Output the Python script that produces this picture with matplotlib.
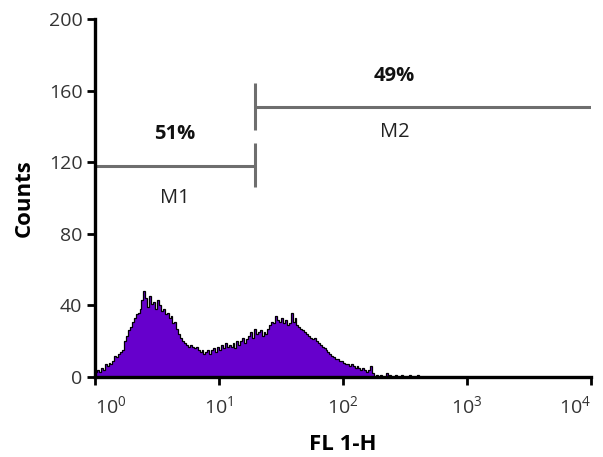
import numpy as np
import matplotlib
matplotlib.use('Agg')
import matplotlib.pyplot as plt
from matplotlib.ticker import FixedLocator, FuncFormatter, NullLocator

plt.rcParams['font.family'] = ['Open Sans', 'DejaVu Sans']
plt.rcParams['mathtext.default'] = 'regular'

# histogram: 64 channels per decade starting at 10^0
channels_per_decade = 64
counts = [
    3, 4, 3, 5, 4,
    7, 6, 8, 7, 9,
    12, 11, 13, 14, 15,
    20, 23, 26, 28, 31,
    33, 35, 36, 38, 43,
    48, 44, 39, 45, 41,
    42, 38, 43, 40, 37,
    38, 35, 36, 33, 34,
    30, 31, 27, 24, 22,
    20, 19, 18, 17, 18,
    17, 16, 17, 15, 14,
    15, 13, 14, 15, 13,
    15, 16, 14, 17, 15,
    18, 16, 19, 17, 18,
    17, 19, 16, 20, 18,
    20, 22, 19, 21, 23,
    25, 22, 27, 24, 25,
    26, 23, 25, 24, 27,
    29, 31, 30, 34, 32,
    31, 33, 30, 32, 29,
    30, 36, 31, 33, 29,
    28, 27, 26, 25, 24,
    23, 22, 21, 22, 20,
    19, 18, 17, 16, 15,
    14, 13, 12, 11, 10,
    10, 9, 9, 8, 7,
    7, 6, 7, 6, 5,
    6, 5, 4, 5, 4,
    3, 4, 6, 2, 0,
    1, 0, 1, 0, 0, 2, 0, 1, 0, 0,
    1, 0, 0, 1, 0, 0, 0, 1, 0, 0,
    0, 1, 0, 0, 0, 0, 0, 0,
]
edges = 10 ** (np.arange(len(counts) + 1) / channels_per_decade)

# marker gates
m1_start, m1_end, m1_y = 1, 19.5, 118
m2_start, m2_end, m2_y = 19.5, 10000, 151
m1_label, m1_pct = 'M1', '51%'
m2_label, m2_pct = 'M2', '49%'

fig = plt.figure(figsize=(6.03, 4.57), dpi=100)
ax = fig.add_axes([0.1575, 0.175, 0.8226, 0.7834])

ax.stairs(counts, edges, fill=True, color='#6600cc', baseline=0)
ax.stairs(counts, edges, color='black', linewidth=0.9, baseline=0)

gate_color = '#6e6e6e'
ax.plot([m1_start, m1_end], [m1_y, m1_y], color=gate_color, lw=2.2, solid_capstyle='butt')
ax.plot([m1_end, m1_end], [m1_y - 12, m1_y + 13], color=gate_color, lw=2.2, solid_capstyle='butt')
ax.plot([m2_start, m2_end], [m2_y, m2_y], color=gate_color, lw=2.2, solid_capstyle='butt')
ax.plot([m2_start, m2_start], [m2_y - 13, m2_y + 13], color=gate_color, lw=2.2, solid_capstyle='butt')

ax.text(4.4, 136, m1_pct, ha='center', va='center', fontsize=14.5, fontweight='bold', color='#111111')
ax.text(4.4, 100, m1_label, ha='center', va='center', fontsize=14.5, color='#222222')
ax.text(260, 168, m2_pct, ha='center', va='center', fontsize=14.5, fontweight='bold', color='#111111')
ax.text(260, 137, m2_label, ha='center', va='center', fontsize=14.5, color='#222222')

ax.set_xscale('log')
ax.set_xlim(1, 10000)
ax.set_ylim(0, 200)
ax.xaxis.set_major_locator(FixedLocator([1, 10, 100, 1000, 10000]))
ax.xaxis.set_minor_locator(NullLocator())
ax.xaxis.set_major_formatter(FuncFormatter(lambda v, p: r'$10^{%d}$' % round(np.log10(v))))
ax.set_yticks([0, 40, 80, 120, 160, 200])

for s in ['top', 'right']:
    ax.spines[s].set_visible(False)
for s in ['left', 'bottom']:
    ax.spines[s].set_linewidth(2.4)
ax.tick_params(axis='both', direction='out', length=6, width=2, labelsize=14,
               labelcolor='#333333', pad=3)
ax.tick_params(axis='x', pad=7)

fig.canvas.draw()
xlabels = ax.get_xticklabels()
xlabels[0].set_ha('left')
xlabels[0].set_x(0.9)
xlabels[-1].set_ha('right')

ax.set_xlabel('FL 1-H', fontsize=16, fontweight='bold', labelpad=12)
ax.set_ylabel('Counts', fontsize=16, fontweight='bold', labelpad=10)

fig.savefig('out.png', dpi=100)
